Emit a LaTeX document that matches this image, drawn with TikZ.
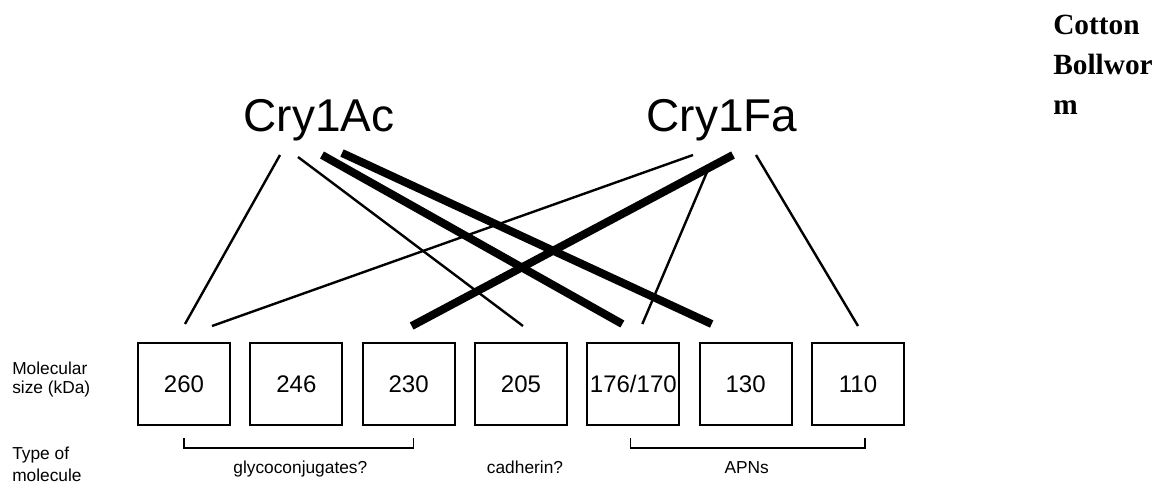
\documentclass[tikz,border=0pt]{standalone}
\usepackage{fontspec}
\setmainfont{Liberation Sans}
\newfontfamily\pestfont{Liberation Serif}
\usetikzlibrary{positioning}

\begin{document}
\begin{tikzpicture}[x=0.75pt, y=-0.75pt, node distance=13.75pt, every node/.style={inner sep=0pt}]
\tikzset{sizebox/.style={draw, line width=1.5pt, minimum width=69pt, minimum height=61.5pt, font=\fontsize{18}{20}\selectfont}}
\tikzset{toxin/.style={font=\fontsize{34.5}{38}\selectfont, anchor=base}}
\tikzset{lbl/.style={font=\fontsize{13}{15}\selectfont, anchor=base}}
\tikzset{weak/.style={line width=1.8pt}}
\tikzset{strong/.style={line width=6pt}}
\tikzset{brace/.style={line width=0.8pt}}
\useasboundingbox (0,0) rectangle (1174,490);

\node[anchor=north west, align=left, font=\pestfont\fontsize{22}{30}\selectfont\bfseries] (pest) at (1053,15) {Cotton\\Bollwor\\m};

\node[toxin] (ac) at (319,131) {Cry1Ac};
\node[toxin] (fa) at (722,131) {Cry1Fa};

% receptors by size
\node[sizebox] (b260) at (184,384) {260};
\node[sizebox, right=of b260] (b246) {246};
\node[sizebox, right=of b246] (b230) {230};
\node[sizebox, right=of b230] (b205) {205};
\node[sizebox, right=of b205] (b176) {176/170};
\node[sizebox, right=of b176] (b130) {130};
\node[sizebox, right=of b130] (b110) {110};

\node[anchor=west, align=left, font=\fontsize{13}{14.25}\selectfont] (molsize) at (12,380) {Molecular\\size (kDa)};
\node[anchor=west, align=left, font=\fontsize{13}{16.5}\selectfont] (moltype) at (12,464) {Type of\\molecule};

% binding
\draw[weak] ([shift={(-39,24)}]ac.base) -- ([shift={(1,-18)}]b260.north);
\draw[weak] ([shift={(-21,26)}]ac.base) -- ([shift={(2,-16)}]b205.north);
\draw[strong] ([shift={(3,24)}]ac.base) -- ([shift={(-11,-18)}]b176.north);
\draw[strong] ([shift={(23,22)}]ac.base) -- ([shift={(-34,-18)}]b130.north);
\draw[weak] ([shift={(-29,24)}]fa.base) -- ([shift={(28,-16)}]b260.north);
\draw[strong] ([shift={(11,24)}]fa.base) -- ([shift={(3,-16)}]b230.north);
\draw[weak] ([shift={(-12,34)}]fa.base) -- ([shift={(9,-18)}]b176.north);
\draw[weak] ([shift={(34,24)}]fa.base) -- ([shift={(0,-16)}]b110.north);

% groups
\draw[brace] ([shift={(0,12)}]b260.south) -- ([shift={(0,22)}]b260.south) -- ([shift={(5,22)}]b230.south) -- ([shift={(5,12)}]b230.south);
\draw[brace] ([shift={(-3,12)}]b176.south) -- ([shift={(-3,22)}]b176.south) -- ([shift={(7,22)}]b110.south) -- ([shift={(7,12)}]b110.south);
\node[lbl] (glyco) at ([shift={(4,47)}]b246.south) {glycoconjugates?};
\node[lbl] (cadh) at ([shift={(4,47)}]b205.south) {cadherin?};
\node[lbl] (apn) at ([shift={(1,47)}]b130.south) {APNs};
\end{tikzpicture}
\end{document}
